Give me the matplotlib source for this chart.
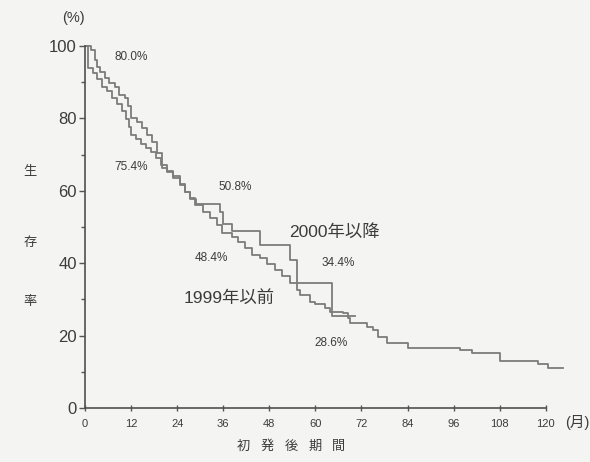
import matplotlib
matplotlib.use("Agg")
import matplotlib.pyplot as plt

plt.rcParams['font.family'] = ['Liberation Sans', 'Noto Sans CJK JP', 'DejaVu Sans']

# 1999年以前: (month, survival % after the step)
before_t = [0, 0.8, 2.0, 3.1, 4.4, 5.7, 7.0, 8.3, 9.6, 10.6, 11.4, 11.9, 13.2, 14.5, 15.8,
            17.2, 18.5, 19.8, 21.4, 23.0, 24.8, 26.1, 27.3, 28.6, 30.7, 32.6, 34.4,
            35.8, 38.3, 39.8, 41.7, 43.5, 45.6, 47.5, 49.5, 51.4, 53.4, 55.2, 56.0,
            58.6, 59.9, 62.5, 63.8, 67.2, 68.5, 69.0, 73.4, 75.0, 76.3, 78.6, 84.1,
            97.6, 100.8, 108.1, 118.0, 120.6]
before_s = [100, 93.9, 92.5, 91.0, 88.7, 87.6, 85.5, 84.0, 82.0, 79.8, 77.6, 75.4, 74.3, 73.0,
            71.9, 70.6, 69.0, 67.2, 65.6, 64.0, 62.0, 59.8, 57.9, 56.2, 54.1, 52.5, 50.6,
            48.4, 47.2, 45.9, 44.2, 42.3, 41.4, 39.8, 38.0, 36.4, 34.5, 32.6, 31.2,
            29.3, 28.6, 27.6, 26.5, 26.2, 24.9, 23.5, 22.4, 21.5, 19.6, 18.0, 16.6,
            16.0, 15.2, 13.0, 12.2, 11.0]
before_end = 124.5

# 2000年以降
after_t = [0, 1.6, 2.7, 3.1, 3.9, 5.2, 6.3, 7.8, 8.9, 10.4, 11.2, 11.9, 13.5, 14.8,
           16.1, 17.4, 18.7, 20.0, 21.4, 23.0, 24.8, 26.1, 27.3, 29.0, 35.2, 35.9,
           38.3, 45.6, 53.4, 55.2, 64.3]
after_s = [100, 98.9, 96.1, 94.2, 92.8, 91.2, 89.8, 88.7, 86.5, 85.6, 83.5, 80.0, 79.0, 77.3,
           75.4, 73.5, 70.4, 66.3, 65.2, 63.6, 61.6, 59.6, 57.8, 56.4, 54.1, 50.8,
           48.8, 45.0, 40.9, 34.4, 25.4]
after_end = 70.3

# survival rates printed at 1, 3 and 5 years
notes = [("80.0%", 12, 97.0), ("75.4%", 12, 66.5), ("50.8%", 39, 61.0),
         ("48.4%", 33, 41.5), ("34.4%", 66, 40.0), ("28.6%", 64, 18.0)]

line_color = "#7c7c7c"
text_color = "#3c3c3c"

fig = plt.figure(figsize=(5.9, 4.62), dpi=100, facecolor="#f4f4f2")
ax = fig.add_axes([85 / 590, 54 / 462, 480 / 590, 362 / 462])
ax.set_facecolor("#f4f4f2")

ax.step(before_t + [before_end], before_s + [before_s[-1]], where="post",
        color=line_color, lw=1.3, clip_on=False)
ax.step(after_t + [after_end], after_s + [after_s[-1]], where="post",
        color=line_color, lw=1.3, clip_on=False)

ax.set_xlim(0, 480 / 3.84)
ax.set_ylim(0, 100)
for side in ("top", "right"):
    ax.spines[side].set_visible(False)
for side in ("left", "bottom"):
    ax.spines[side].set_color("#505050")
    ax.spines[side].set_linewidth(1.2)
ax.spines["bottom"].set_bounds(0, 120)

ax.set_xticks(range(0, 121, 12))
ax.set_yticks(range(0, 101, 20))
ax.set_yticks(range(10, 100, 20), minor=True)
ax.tick_params(axis="x", direction="inout", length=4, width=1, color="#555555",
               labelsize=8, labelcolor=text_color, pad=6)
ax.tick_params(axis="y", which="major", direction="out", length=4, width=1, color="#555555",
               labelsize=12, labelcolor=text_color, pad=2)
ax.tick_params(axis="y", which="minor", direction="out", length=3, width=1, color="#555555")

for txt, x, y in notes:
    ax.text(x, y, txt, fontsize=8.5, color=text_color, ha="center", va="center")

ax.text(65, 48.5, "2000年以降", fontsize=12.5, color=text_color, ha="center", va="center")
ax.text(37.5, 30.5, "1999年以前", fontsize=12.5, color=text_color, ha="center", va="center")

fig.text(73 / 590, 1 - 18 / 462, "(%)", fontsize=10.5, color=text_color, ha="center", va="center")
fig.text(577 / 590, 1 - 423 / 462, "(月)", fontsize=10.5, color=text_color, ha="center", va="center")
for ch, y in zip("生存率", (172, 243, 302)):
    fig.text(30 / 590, 1 - y / 462, ch, fontsize=9.5, color=text_color, ha="center", va="center")
for ch, x in zip("初発後期間", (243, 267, 291, 315, 338)):
    fig.text(x / 590, 1 - 447 / 462, ch, fontsize=9.5, color=text_color,
             ha="center", va="center")

fig.savefig("out.png", dpi=100, facecolor=fig.get_facecolor())
